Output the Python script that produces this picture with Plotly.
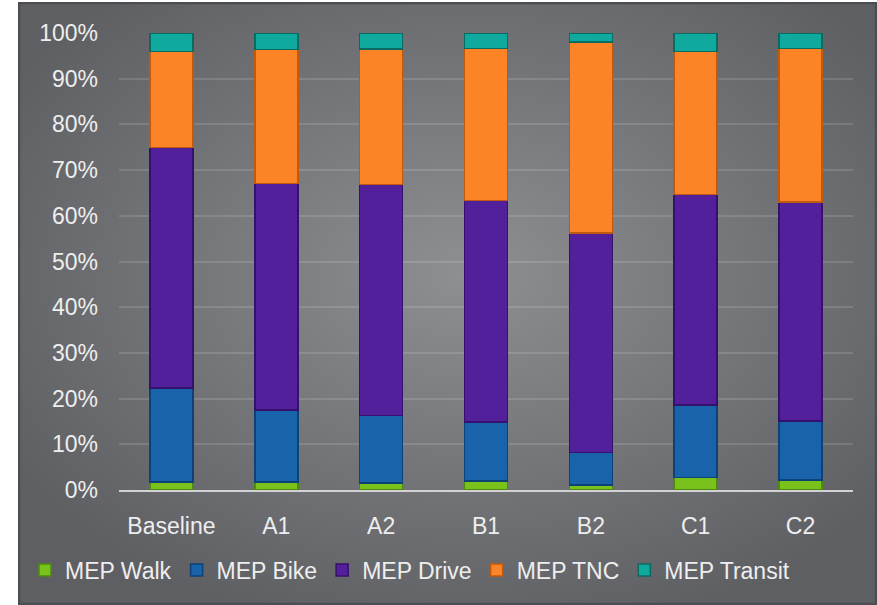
import base64
import plotly.graph_objects as go

# Mode share by scenario (percent of trips)
scenarios = ["Baseline", "A1", "A2", "B1", "B2", "C1", "C2"]
walk = [1.8, 1.8, 1.5, 2.0, 1.1, 2.7, 2.2]
bike = [20.5, 15.7, 14.8, 12.9, 7.1, 15.9, 12.9]
drive = [52.7, 49.6, 50.5, 48.5, 48.0, 46.1, 47.9]
tnc = [21.0, 29.3, 29.7, 33.2, 41.8, 31.3, 33.6]
transit = [4.0, 3.6, 3.5, 3.4, 2.0, 4.0, 3.4]

series = [
    ("MEP Walk", walk, "#79c21c", "#4f8a0e"),
    ("MEP Bike", bike, "#1963ab", "#0c4278"),
    ("MEP Drive", drive, "#52209b", "#36106e"),
    ("MEP TNC", tnc, "#fd8426", "#c05a0c"),
    ("MEP Transit", transit, "#10a99d", "#0a6b63"),
]

W, H = 877, 605
L, R, T, B = 119, 24, 33, 115
plot_w, plot_h = W - L - R, H - T - B

fig = go.Figure()
for name, vals, fill, edge in series:
    fig.add_trace(go.Bar(
        name=name,
        x=scenarios,
        y=[v / 100 for v in vals],
        width=0.41,
        marker=dict(color=fill, line=dict(color=edge, width=1.5)),
    ))

# Gray backdrop with a soft radial glow and a dark frame
svg = f"""<svg xmlns='http://www.w3.org/2000/svg' width='859' height='603' viewBox='0 0 859 603' preserveAspectRatio='none'>
<defs><radialGradient id='g' cx='52%' cy='45%' r='62%'>
<stop offset='0%' stop-color='#8e8f93'/><stop offset='100%' stop-color='#5e5f63'/>
</radialGradient></defs>
<rect x='0' y='0' width='859' height='603' fill='url(#g)'/>
<rect x='1' y='1' width='857' height='601' fill='none' stroke='#4c4d51' stroke-width='2.5'/>
</svg>"""
src = "data:image/svg+xml;base64," + base64.b64encode(svg.encode()).decode()

fig.update_layout(
    width=W, height=H,
    margin=dict(l=L, r=R, t=T, b=B, pad=0),
    paper_bgcolor="white",
    plot_bgcolor="rgba(0,0,0,0)",
    barmode="stack",
    font=dict(family="Liberation Sans, Arial, sans-serif", size=23, color="#eeeeee"),
    images=[dict(
        source=src, xref="paper", yref="paper",
        x=(18 - L) / plot_w, y=(H - B - 2) / plot_h,
        sizex=859 / plot_w, sizey=603 / plot_h,
        xanchor="left", yanchor="top", sizing="stretch", layer="below",
    )],
    xaxis=dict(
        showgrid=False, zeroline=False,
        showline=True, linecolor="#d2d2d2", linewidth=2,
        ticks="", ticklabelstandoff=14,
        tickfont=dict(size=23, color="#eeeeee"),
    ),
    yaxis=dict(
        range=[0, 1], dtick=0.1, tickformat=".0%",
        showgrid=True, gridcolor="rgba(255,255,255,0.13)", gridwidth=1.5,
        zeroline=False, showline=False,
        ticks="", ticklabelstandoff=20,
        tickfont=dict(size=23, color="#eeeeee"),
    ),
    legend=dict(
        orientation="h", xref="paper", yref="paper",
        x=(25 - L) / plot_w, xanchor="left",
        y=(H - B - 570) / plot_h, yanchor="middle",
        font=dict(size=23, color="#eeeeee"),
        bgcolor="rgba(0,0,0,0)", itemwidth=30,
        traceorder="normal",
    ),
    showlegend=True,
)

fig.write_html("out.html")
